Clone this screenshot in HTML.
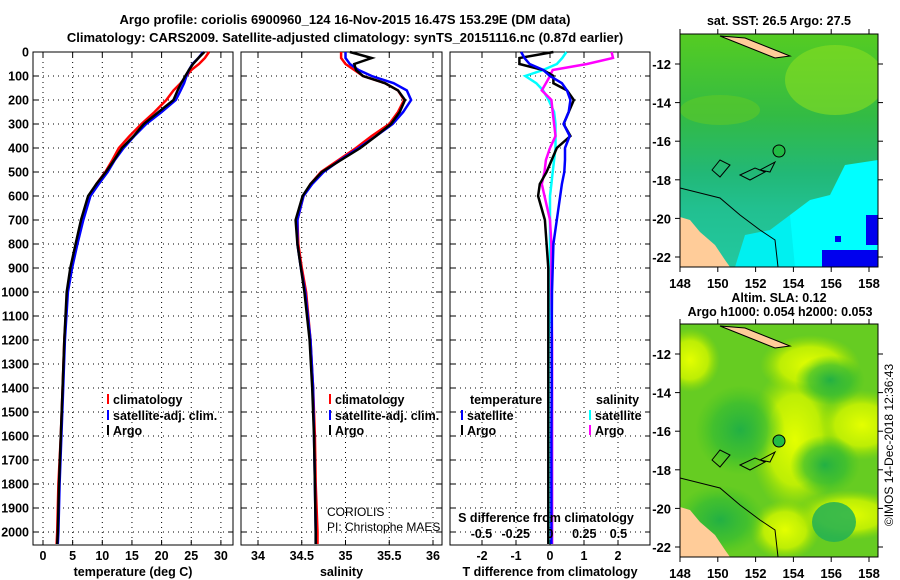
<!DOCTYPE html>
<html><head><meta charset="utf-8"><style>
body{margin:0;background:#fff}
svg{display:block;font-family:"Liberation Sans",sans-serif}
.b{font-weight:bold;font-size:13px}
.t{font-weight:bold;font-size:12.5px}
</style></head><body>
<svg id="c" width="900" height="580" viewBox="0 0 900 580">
<defs>
<linearGradient id="sstg" x1="0" y1="0" x2="0" y2="1">
<stop offset="0" stop-color="#55cc22"/><stop offset="0.35" stop-color="#33bb44"/><stop offset="0.6" stop-color="#22b877"/><stop offset="0.75" stop-color="#22c090"/><stop offset="1" stop-color="#22c8a0"/></linearGradient>
<radialGradient id="yb"><stop offset="0" stop-color="#e4ff00"/><stop offset="0.6" stop-color="#ccf400" stop-opacity="0.85"/><stop offset="1" stop-color="#99dd00" stop-opacity="0"/></radialGradient>
<radialGradient id="gb"><stop offset="0" stop-color="#22b044"/><stop offset="0.6" stop-color="#33bb33" stop-opacity="0.7"/><stop offset="1" stop-color="#44c422" stop-opacity="0"/></radialGradient>
<clipPath id="m1"><rect x="680" y="34" width="198" height="233"/></clipPath>
<clipPath id="m2"><rect x="680" y="324" width="198" height="233"/></clipPath>
</defs>
<text x="345" y="24" text-anchor="middle" class="b" font-size="14">Argo profile: coriolis 6900960_124 16-Nov-2015 16.47S 153.29E (DM data)</text>
<text x="345" y="42" text-anchor="middle" class="b">Climatology: CARS2009. Satellite-adjusted climatology: synTS_20151116.nc (0.87d earlier)</text>
<g id="panels"></g>
<!-- SST map -->
<g>
<text x="779" y="25" text-anchor="middle" class="t">sat. SST: 26.5 Argo: 27.5</text>
<g clip-path="url(#m1)">
<rect x="680" y="34" width="198" height="233" fill="url(#sstg)"/>
<ellipse cx="835" cy="80" rx="50" ry="35" fill="#88dd22" opacity="0.6"/>
<ellipse cx="720" cy="110" rx="40" ry="15" fill="#66cc22" opacity="0.5"/>
<path d="M780 267 L790 215 L810 200 L830 195 L845 165 L878 160 L878 267 Z" fill="#00ffff"/>
<path d="M735 267 L745 235 L770 230 L790 215 L795 267 Z" fill="#00f0f0"/>
<rect x="822" y="250" width="56" height="17" fill="#0000ee"/>
<rect x="866" y="215" width="12" height="30" fill="#0000ee"/>
<rect x="835" y="236" width="6" height="6" fill="#0000ee"/>
<path d="M680 217 L690 220 L700 232 L715 245 L725 260 L730 267 L680 267 Z" fill="#ffcc99"/>
<path d="M720 36 L745 38 L770 48 L790 56 L775 58 L750 48 Z" fill="#ffcc99" stroke="#000" stroke-width="1"/>
<path d="M680 188 L720 198 L740 215 L760 230 L775 240 L778 267" fill="none" stroke="#000"/>
<path d="M712 170 L720 160 L730 165 L720 177 Z M740 175 L755 168 L765 172 L750 180 Z M760 170 L775 162 L770 172 Z" fill="none" stroke="#000"/>
<circle cx="779" cy="151" r="6" fill="#22bb44" stroke="#000"/>
</g>
<rect x="680" y="34" width="198" height="233" fill="none" stroke="#000"/>
</g>
<!-- SLA map -->
<g>
<text x="779" y="302" text-anchor="middle" class="t">Altim. SLA: 0.12</text>
<text x="780" y="316" text-anchor="middle" class="t">Argo h1000: 0.054 h2000: 0.053</text>
<g clip-path="url(#m2)">
<rect x="680" y="324" width="198" height="233" fill="#66cc22"/>
<ellipse cx="690" cy="360" rx="30" ry="32" fill="url(#yb)"/>
<ellipse cx="795" cy="440" rx="45" ry="75" fill="url(#yb)"/>
<ellipse cx="862" cy="425" rx="45" ry="35" fill="url(#yb)"/>
<ellipse cx="810" cy="365" rx="50" ry="30" fill="url(#yb)"/>
<ellipse cx="785" cy="530" rx="35" ry="30" fill="url(#yb)"/>
<ellipse cx="850" cy="515" rx="55" ry="25" fill="url(#yb)"/>
<ellipse cx="740" cy="430" rx="45" ry="45" fill="url(#gb)"/>
<ellipse cx="830" cy="380" rx="35" ry="25" fill="url(#gb)"/>
<ellipse cx="825" cy="465" rx="35" ry="30" fill="url(#gb)"/>
<ellipse cx="834" cy="522" rx="22" ry="20" fill="#22b055" opacity="0.85"/>
<ellipse cx="720" cy="520" rx="45" ry="35" fill="url(#gb)"/>
<path d="M680 507 L690 510 L700 522 L715 535 L725 550 L730 557 L680 557 Z" fill="#ffcc99"/>
<path d="M720 326 L745 328 L770 338 L790 346 L775 348 L750 338 Z" fill="#ffcc99" stroke="#000" stroke-width="1"/>
<path d="M680 478 L720 488 L740 505 L760 520 L775 530 L778 557" fill="none" stroke="#000"/>
<path d="M712 460 L720 450 L730 455 L720 467 Z M740 465 L755 458 L765 462 L750 470 Z M760 460 L775 452 L770 462 Z" fill="none" stroke="#000"/>
<circle cx="779" cy="441" r="6" fill="#22bb44" stroke="#000"/>
</g>
<rect x="680" y="324" width="198" height="233" fill="none" stroke="#000"/>
</g>
<text transform="translate(893,445) rotate(-90)" text-anchor="middle" font-size="12">©IMOS 14-Dec-2018 12:36:43</text>
<text x="327" y="516" font-size="12">CORIOLIS</text>
<text x="327" y="531" font-size="12">PI: Christophe MAES</text>
</svg>
<script>
const depths=[0,25,50,75,100,130,160,200,250,300,350,400,450,500,550,600,700,800,900,1000,1200,1400,1600,1800,2000,2050];
const tempArgo=[27.2,26.2,25.3,24.6,24.0,23.3,22.7,22.0,19.5,17.0,15.3,13.3,12.0,10.6,9.0,7.6,6.4,5.5,4.6,4.0,3.6,3.3,3.0,2.7,2.5,2.4];
const tempClim=[28.0,27.3,26.3,25.0,24.2,23.2,22.0,20.8,18.8,16.6,14.6,12.8,11.7,10.5,9.0,7.8,6.6,5.7,4.8,4.1,3.6,3.3,3.0,2.6,2.4,2.3];
const tempSat=[27.0,26.2,25.2,24.6,24.2,23.8,23.2,22.4,20.0,17.4,15.4,13.6,12.1,10.9,9.4,8.0,6.8,5.8,4.9,4.2,3.7,3.4,3.1,2.8,2.6,2.5];
const salArgo=[35.05,35.3,35.1,35.12,35.2,35.45,35.6,35.68,35.62,35.52,35.35,35.17,34.95,34.73,34.6,34.51,34.43,34.45,34.49,34.53,34.59,34.62,34.64,34.65,34.66,34.66];
const salClim=[34.95,34.95,35.0,35.1,35.2,35.45,35.6,35.67,35.6,35.5,35.3,35.12,34.92,34.72,34.6,34.52,34.45,34.46,34.5,34.55,34.6,34.63,34.65,34.66,34.68,34.68];
const salSat=[35.0,35.0,35.05,35.15,35.3,35.55,35.7,35.75,35.66,35.54,35.35,35.15,34.94,34.75,34.62,34.52,34.45,34.45,34.49,34.54,34.6,34.63,34.64,34.65,34.66,34.66];
const dTArgo=[0.1,-0.9,-0.9,-0.2,0.1,0.1,0.5,0.7,0.55,0.4,0.6,0.2,0.05,-0.1,-0.3,-0.35,-0.15,-0.1,-0.05,-0.05,-0.05,-0.05,-0.05,-0.05,-0.05,-0.05];
const dTSat=[-0.85,-0.75,-0.6,-0.2,0.0,0.35,0.5,0.6,0.55,0.4,0.58,0.44,0.44,0.42,0.35,0.3,0.2,0.1,0.08,0.06,0.05,0.05,0.04,0.04,0.04,0.04];
const dSSat=[0.12,0.09,0.05,-0.05,-0.18,-0.1,-0.05,-0.01,0.03,0.04,0.04,0.04,0.03,0.02,0.01,0.0,0.0,0.0,0.0,0.0,-0.01,-0.01,-0.01,-0.01,-0.01,-0.01];
const dSArgo=[0.45,0.46,0.27,0.02,0.0,-0.03,-0.06,0.01,0.02,0.03,0.04,0.0,-0.03,-0.04,-0.06,-0.04,0.0,0.01,0.01,0.01,0.015,0.015,0.015,0.015,0.015,0.015];
const depthTicks=[0,100,200,300,400,500,600,700,800,900,1000,1100,1200,1300,1400,1500,1600,1700,1800,1900,2000];
const tTicks=[0,5,10,15,20,25,30];
const sTicks=[34,34.5,35,35.5,36];
const dtTicks=[-2,-1,0,1,2];
const dsTicks=[-0.5,-0.25,0,0.25,0.5];
const dsTickLabels=["-0.5","-0.25","0","0.25","0.5"];

const NS='http://www.w3.org/2000/svg';
const root=document.getElementById('panels');
const top0=52,bot=545,pxPerM=0.24;
function y(d){return top0+d*pxPerM;}
function mk(tag,attrs,parent){const e=document.createElementNS(NS,tag);for(const k in attrs)e.setAttribute(k,attrs[k]);(parent||root).appendChild(e);return e;}
function xT(v){return 43+5.93*v;}
function xS(v){return 258+87.5*(v-34);}
function xDT(v){return 550+34*v;}
function xDS(v){return 550+137*v;}

function panel(x0,x1,name,vticks,xf,labels,xlabel,depthLabels){
  const g=mk('g',{});
  
  
  depthTicks.forEach(d=>{
    mk('line',{x1:x0,x2:x1,y1:y(d),y2:y(d),stroke:'#000','stroke-dasharray':'1 4'},g);
    mk('line',{x1:x0,x2:x0+5,y1:y(d),y2:y(d),stroke:'#000'},g);
    mk('line',{x1:x1-5,x2:x1,y1:y(d),y2:y(d),stroke:'#000'},g);
    if(depthLabels){const t=mk('text',{x:x0-4,y:y(d)+4.5,'text-anchor':'end',class:'t'},g);t.textContent=d;
      
      }
  });
  vticks.forEach((v,i)=>{
    mk('line',{x1:xf(v),x2:xf(v),y1:top0,y2:bot,stroke:'#000','stroke-dasharray':'1 4'},g);
    mk('line',{x1:xf(v),x2:xf(v),y1:bot-5,y2:bot,stroke:'#000'},g);
    mk('line',{x1:xf(v),x2:xf(v),y1:top0,y2:top0+5,stroke:'#000'},g);
    const t=mk('text',{x:xf(v),y:560,'text-anchor':'middle',class:'t'},g);t.textContent=labels[i];
    
    
  });
  mk('rect',{x:x0,y:top0,width:x1-x0,height:bot-top0,fill:'none',stroke:'#000'},g);
  const xl=mk('text',{x:(x0+x1)/2,y:576,'text-anchor':'middle',class:'t'},g);xl.textContent=xlabel;
  
  
  return g;
}
function line(g,vals,xf,color,name){
  const pts=vals.map((v,i)=>xf(v).toFixed(1)+','+y(depths[i]).toFixed(1)).join(' ');
  const p=mk('polyline',{points:pts,fill:'none',stroke:color,'stroke-width':2.5},g);
  
  
}
function legend(g,x,yy,color,label){
  mk('line',{x1:x,x2:x,y1:yy-10,y2:yy,stroke:color,'stroke-width':2},g);
  const t=mk('text',{x:x+5,y:yy,class:'t'},g);t.textContent=label;
  
  
}
const g1=panel(33,233,'temperature-panel',tTicks,xT,tTicks.map(String),'temperature (deg C)',true);
line(g1,tempClim,xT,'#f00','temp-climatology-line');
line(g1,tempSat,xT,'#00f','temp-satellite-line');
line(g1,tempArgo,xT,'#000','temp-argo-line');
legend(g1,108,404,'#f00','climatology');legend(g1,108,420,'#00f','satellite-adj. clim.');legend(g1,108,435,'#000','Argo');

const g2=panel(241,442,'salinity-panel',sTicks,xS,sTicks.map(String),'salinity',false);
line(g2,salClim,xS,'#f00','sal-climatology-line');
line(g2,salSat,xS,'#00f','sal-satellite-line');
line(g2,salArgo,xS,'#000','sal-argo-line');
legend(g2,330,404,'#f00','climatology');legend(g2,330,420,'#00f','satellite-adj. clim.');legend(g2,330,435,'#000','Argo');

const g3=panel(450,650,'difference-panel',dtTicks,xDT,dtTicks.map(String),'T difference from climatology',false);
line(g3,dSSat,xDS,'#0ff','s-diff-satellite-line');
line(g3,dSArgo,xDS,'#f0f','s-diff-argo-line');
line(g3,dTArgo,xDT,'#000','t-diff-argo-line');
line(g3,dTSat,xDT,'#00f','t-diff-satellite-line');
dsTicks.forEach((v,i)=>{const t=mk('text',{x:xDS(v),y:538,'text-anchor':'middle',class:'t'},g3);t.textContent=dsTickLabels[i];
  
  });
const st=mk('text',{x:546,y:522,'text-anchor':'middle',class:'t'},g3);st.textContent='S difference from climatology';


const lt=mk('text',{x:470,y:404,class:'t'},g3);lt.textContent='temperature';
const ls=mk('text',{x:596,y:404,class:'t'},g3);ls.textContent='salinity';
legend(g3,462,420,'#00f','satellite');legend(g3,462,435,'#000','Argo');
legend(g3,590,420,'#0ff','satellite');legend(g3,590,435,'#f0f','Argo');

function mapAxes(yTop,yBot,latY){
  const g=mk('g',{});
  
  
  [148,150,152,154,156,158].forEach(lon=>{const x=680+18.9*(lon-148);
    mk('line',{x1:x,x2:x,y1:yBot,y2:yBot+5,stroke:'#000'},g);mk('line',{x1:x,x2:x,y1:yTop-5,y2:yTop,stroke:'#000'},g);
    const t=mk('text',{x:x,y:yBot+21,'text-anchor':'middle',class:'b'},g);t.textContent=lon;});
  [-12,-14,-16,-18,-20,-22].forEach(lat=>{const yy=latY+19.3*(-12-lat);
    mk('line',{x1:675,x2:680,y1:yy,y2:yy,stroke:'#000'},g);mk('line',{x1:878,x2:883,y1:yy,y2:yy,stroke:'#000'},g);
    const t=mk('text',{x:671,y:yy+5,'text-anchor':'end',class:'b'},g);t.textContent=lat;});
}
mapAxes(34,267,64);mapAxes(324,557,354);
</script>
</body></html>
